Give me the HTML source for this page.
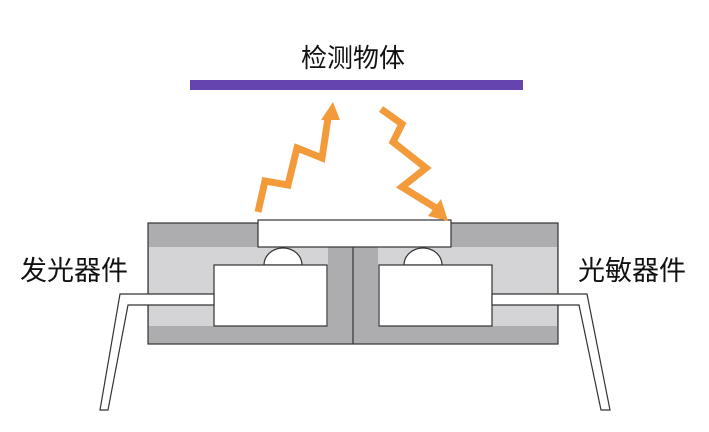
<!DOCTYPE html>
<html><head><meta charset="utf-8"><style>
html,body{margin:0;padding:0;background:#fff;width:709px;height:432px;overflow:hidden}
text{font-family:"Liberation Sans","Noto Sans CJK SC",sans-serif;fill:#111}
</style></head><body>
<svg width="709" height="432" viewBox="0 0 709 432" xmlns="http://www.w3.org/2000/svg">
<text x="353" y="67" font-size="26" text-anchor="middle">检测物体</text>
<rect x="190" y="80" width="333" height="10" fill="#6644b0"/>
<rect x="148" y="223" width="410" height="121" fill="#adadaf" stroke="#333" stroke-width="1.2"/>
<rect x="149" y="247" width="179" height="79" fill="#d4d4d6"/>
<rect x="378" y="247" width="179" height="79" fill="#d4d4d6"/>
<line x1="353" y1="247" x2="353" y2="344" stroke="#333" stroke-width="1.2"/>
<rect x="258" y="220" width="193" height="27" fill="#fff" stroke="#333" stroke-width="1.2"/>
<path d="M264,265 A19,17 0 0 1 302,265 Z" fill="#fff" stroke="#333" stroke-width="1.2"/>
<path d="M404,265 A19,17 0 0 1 442,265 Z" fill="#fff" stroke="#333" stroke-width="1.2"/>
<rect x="214" y="265" width="113" height="61" fill="#fff" stroke="#333" stroke-width="1.2"/>
<rect x="379" y="265" width="113" height="61" fill="#fff" stroke="#333" stroke-width="1.2"/>
<path d="M214,294 L120,294 L100,410 L108,410 L128,305 L214,305 Z" fill="#fff" stroke="#333" stroke-width="1.2"/>
<path d="M492,294 L587,294 L610,410 L601,410 L579,305 L492,305 Z" fill="#fff" stroke="#333" stroke-width="1.2"/>
<polyline points="258,212 265,181 288,185 297,148 322,158 328,118" fill="none" stroke="#f39a3a" stroke-width="7" stroke-linejoin="miter"/>
<polygon points="333,102 321,120 340,120" fill="#f39a3a"/>
<polyline points="381,109 402,124 393,142 426,168 402,187 436,208" fill="none" stroke="#f39a3a" stroke-width="7" stroke-linejoin="miter"/>
<polygon points="448,221 428,216 441,199" fill="#f39a3a"/>
<text x="20" y="280" font-size="27">发光器件</text>
<text x="578" y="280" font-size="27">光敏器件</text>
</svg>
</body></html>
